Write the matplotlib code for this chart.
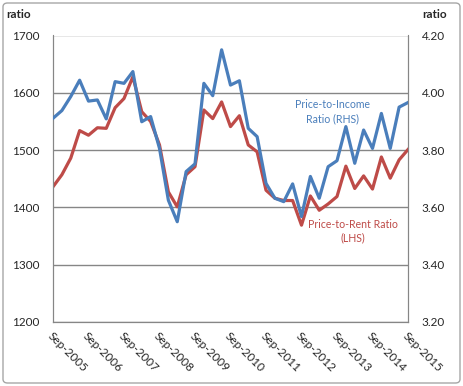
import numpy as np
import matplotlib.pyplot as plt
from matplotlib.patches import FancyBboxPatch

# quarterly observations, Sep-2005 .. Sep-2015
rent_ratio = [1436, 1457, 1486, 1534, 1526, 1539, 1538, 1574, 1590, 1628,
              1567, 1550, 1509, 1427, 1401, 1457, 1471, 1570, 1555, 1584,
              1541, 1560, 1509, 1497, 1430, 1416, 1412, 1412, 1369, 1420,
              1395, 1406, 1419, 1472, 1433, 1455, 1432, 1488, 1451, 1483,
              1501]
income_ratio = [3.911, 3.938, 3.987, 4.044, 3.971, 3.975, 3.909, 4.039, 4.033, 4.074,
                3.899, 3.917, 3.806, 3.625, 3.550, 3.725, 3.752, 4.033, 3.990, 4.150,
                4.027, 4.042, 3.876, 3.847, 3.684, 3.632, 3.620, 3.682, 3.568, 3.708,
                3.632, 3.742, 3.763, 3.882, 3.754, 3.870, 3.806, 3.928, 3.806, 3.950,
                3.966]
tick_labels = ['Sep-2005', 'Sep-2006', 'Sep-2007', 'Sep-2008', 'Sep-2009', 'Sep-2010',
               'Sep-2011', 'Sep-2012', 'Sep-2013', 'Sep-2014', 'Sep-2015']

BLUE = '#4A7EBB'
RED = '#BE4B48'
GRID = '#868686'
TXT = '#262626'

plt.rcParams['font.family'] = ['Lato', 'DejaVu Sans']
plt.rcParams['font.size'] = 8.5

fig = plt.figure(figsize=(4.63, 3.86), dpi=100)
ax = fig.add_axes([53 / 463, 1 - 322 / 386, 355 / 463, (322 - 35.5) / 386])
ax2 = ax.twinx()

x = np.arange(len(rent_ratio))
ax.plot(x, rent_ratio, color=RED, lw=2.3, zorder=3)
ax2.plot(x, income_ratio, color=BLUE, lw=2.3, zorder=3)

ax.set_xlim(0, len(rent_ratio) - 1)
ax.set_ylim(1200, 1700)
ax.set_yticks(range(1200, 1701, 100))
ax2.set_ylim(3.2, 4.2)
ax2.set_yticks(np.arange(3.2, 4.21, 0.2))
ax2.set_yticklabels([f'{v:.2f}' for v in np.arange(3.2, 4.21, 0.2)])

ax.set_xticks(range(0, len(rent_ratio), 4))
ax.set_xticklabels(tick_labels, rotation=-45, ha='left', va='top',
                   rotation_mode='anchor', color=TXT)
ax.grid(axis='y', color=GRID, lw=1)
ax.set_axisbelow(True)

for a in (ax, ax2):
    a.tick_params(length=0, colors=TXT)
    for s in a.spines.values():
        s.set_color(GRID)
    a.spines['top'].set_visible(False)
ax.tick_params(axis='y', pad=10)
ax.tick_params(axis='x', pad=6)
ax2.tick_params(axis='y', pad=10)

fig.text(6 / 463, 1 - 14 / 386, 'ratio', ha='left', va='center', color=TXT, fontweight='bold')
fig.text(447 / 463, 1 - 14 / 386, 'ratio', ha='right', va='center', color=TXT, fontweight='bold')

ax.text(31.5, 1589, 'Price-to-Income\nRatio (RHS)', color=BLUE, ha='center', va='top',
        fontsize=7.6, linespacing=1.3)
ax.text(33.8, 1380, 'Price-to-Rent Ratio\n(LHS)', color=RED, ha='center', va='top',
        fontsize=7.6, linespacing=1.3)

fig.patches.append(FancyBboxPatch((3 / 463, 3 / 386), 457 / 463, 380 / 386,
                                  boxstyle='round,pad=0,rounding_size=0.01',
                                  transform=fig.transFigure, fill=False,
                                  ec='#A6A6A6', lw=1))

fig.savefig('out.png', dpi=100)
